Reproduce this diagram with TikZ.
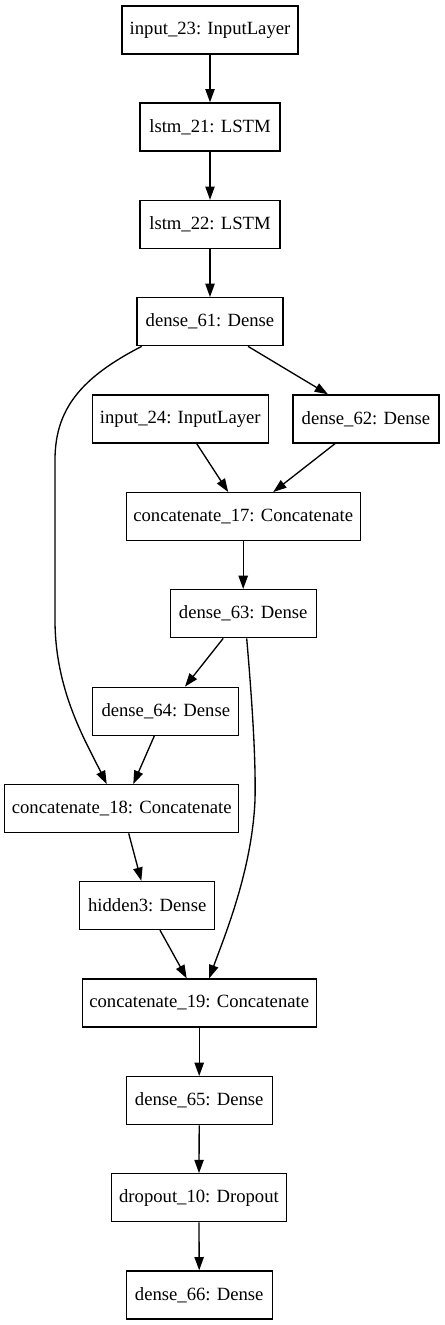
\documentclass[tikz,border=0pt]{standalone}
\usepackage{fontspec}
\setmainfont{Liberation Serif}
\usetikzlibrary{arrows.meta,calc}
\begin{document}
\begin{tikzpicture}[x=0.75pt,y=-0.75pt,
  box/.style={draw,line width=1pt,rectangle,inner sep=0pt,minimum height=36pt,font=\fontsize{14pt}{16pt}\selectfont},
  edge/.style={line width=1pt,-{Triangle[length=10pt,width=7pt]}}]
\useasboundingbox (0,0) rectangle (444,1325);
\node[box,minimum width=132pt] (i23) at (210,30) {input\_23: InputLayer};
\node[box,minimum width=105pt] (l21) at (210,127) {lstm\_21: LSTM};
\node[box,minimum width=105pt] (l22) at (210,224.5) {lstm\_22: LSTM};
\node[box,minimum width=109.5pt] (d61) at (210,321.7) {dense\_61: Dense};
\node[box,minimum width=132pt] (i24) at (180.3,419) {input\_24: InputLayer};
\node[box,minimum width=109.5pt] (d62) at (366,419) {dense\_62: Dense};
\node[box,minimum width=175.5pt] (c17) at (243.2,516.7) {concatenate\_17: Concatenate};
\node[box,minimum width=109.5pt] (d63) at (243.2,613.7) {dense\_63: Dense};
\node[box,minimum width=109.5pt] (d64) at (165.8,711.3) {dense\_64: Dense};
\node[box,minimum width=175.5pt] (c18) at (121.7,808.7) {concatenate\_18: Concatenate};
\node[box,minimum width=101.25pt] (h3) at (147.2,905.5) {hidden3: Dense};
\node[box,minimum width=175.5pt] (c19) at (199.2,1003) {concatenate\_19: Concatenate};
\node[box,minimum width=109.5pt] (d65) at (199.2,1100.7) {dense\_65: Dense};
\node[box,minimum width=131.25pt] (dr10) at (199,1197.8) {dropout\_10: Dropout};
\node[box,minimum width=109.5pt] (d66) at (199.2,1295) {dense\_66: Dense};

\draw[edge] (i23.south) -- (l21.north);
\draw[edge] (l21.south) -- (l22.north);
\draw[edge] (l22.south) -- (d61.north);
\draw[edge] ($(d61.south)+(38,0)$) -- ($(d62.north)+(-38,0)$);
\draw[edge] ($(d61.south)+(-68.3,0)$) .. controls (80,378) and (55,410) .. (55,460) -- (55,620) .. controls (55,690) and (85,740) .. ($(c18.north)+(-15,0)$);
\draw[edge] ($(i24.south)+(16.4,0)$) -- ($(c17.north)+(-15,0)$);
\draw[edge] ($(d62.south)+(-31,0)$) -- ($(c17.north)+(30,0)$);
\draw[edge] (c17.south) -- (d63.north);
\draw[edge] ($(d63.south)+(-20,0)$) -- ($(d64.north)+(19.2,0)$);
\draw[edge] ($(d63.south)+(3.5,0)$) .. controls (252,700) and (256,760) .. (255,800) .. controls (252,870) and (225,935) .. ($(c19.north)+(10,0)$);
\draw[edge] ($(d64.south)+(-11.5,0)$) -- ($(c18.north)+(11.6,0)$);
\draw[edge] ($(c18.south)+(7,0)$) -- ($(h3.north)+(-5.9,0)$);
\draw[edge] ($(h3.south)+(12.8,0)$) -- ($(c19.north)+(-12.5,0)$);
\draw[edge] (c19.south) -- (d65.north);
\draw[edge] (d65.south) -- (dr10.north);
\draw[edge] (dr10.south) -- (d66.north);
\end{tikzpicture}
\end{document}
